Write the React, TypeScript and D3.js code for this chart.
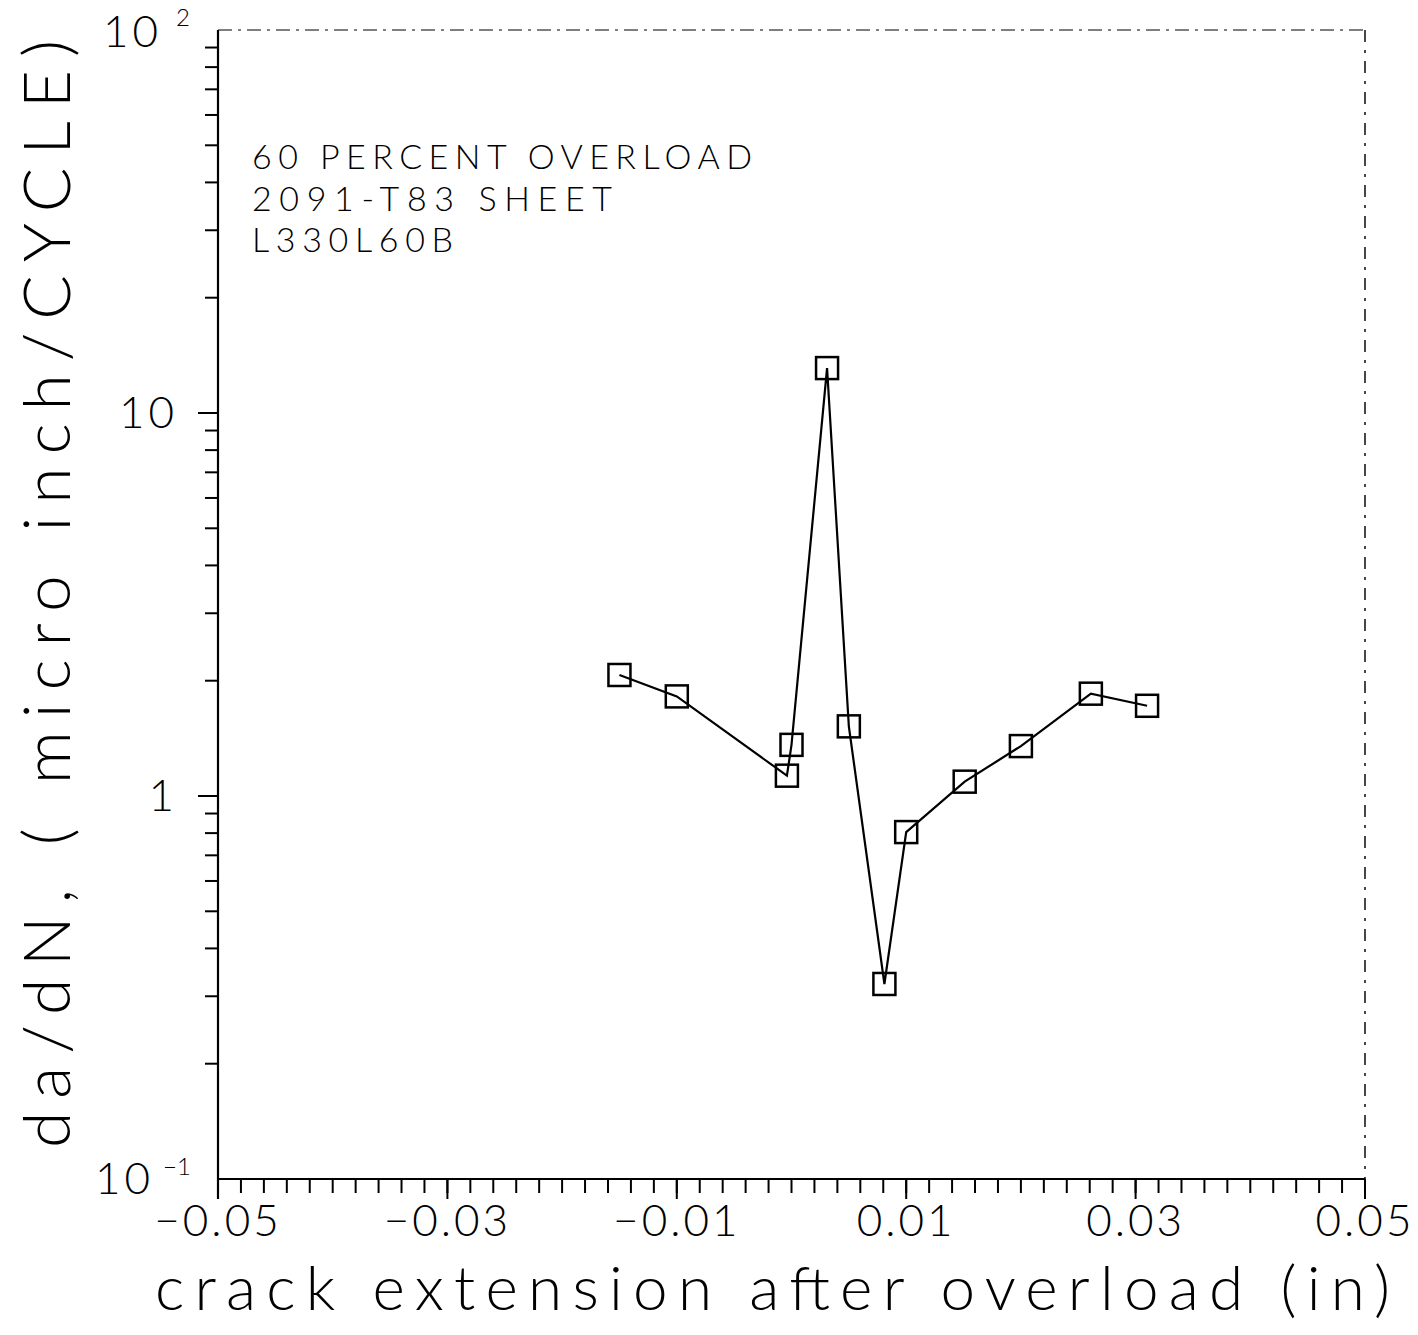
import React from "react";
import * as d3 from "d3";

const crackExt = [-0.015, -0.010, -0.0004, 0.0000, 0.0031, 0.0050, 0.0081, 0.0100, 0.0151, 0.0200, 0.0261, 0.0310];
const dadn = [2.07, 1.82, 1.13, 1.36, 13.1, 1.52, 0.323, 0.805, 1.09, 1.35, 1.85, 1.72];
const xTickLabels = [-0.05, -0.03, -0.01, 0.01, 0.03, 0.05];
const annotation = ["60 PERCENT OVERLOAD", "2091-T83 SHEET", "L330L60B"];
const annotationWidths = [500, 360, 201];
const yLabel = "da/dN, ( micro inch/CYCLE)";
const xLabel = "crack extension after overload (in)";

const W = 1418, H = 1335;
const L = 218, R = 1365, T = 30, B = 1179;
const FONT = "Lato, 'Open Sans', 'DejaVu Sans', sans-serif";

export default function App() {
  const x = d3.scaleLinear().domain([-0.05, 0.05]).range([L, R]);
  const y = d3.scaleLog().domain([0.1, 100]).range([B, T]);

  const minorX = d3.range(0, 51).map((i) => -0.05 + i * 0.002);
  const minorY: number[] = [];
  [0.1, 1, 10].forEach((d) => {
    for (let k = 2; k <= 9; k++) minorY.push(d * k);
  });
  const line = d3.line<number>().x((_, i) => x(crackExt[i])).y((v) => y(v));
  const S = 22;

  return (
    <svg width={W} height={H} style={{ display: "block", position: "absolute", left: 0, top: 0, background: "#fff" }}>
      <rect x={0} y={0} width={W} height={H} fill="#fff" />
      {/* frame */}
      <line x1={L} y1={T} x2={R} y2={T} stroke="#555" strokeWidth={1.5} strokeDasharray="14 6 3 6" />
      <line x1={R} y1={T} x2={R} y2={B + 20} stroke="#333" strokeWidth={1.8} strokeDasharray="12 8 3 8" />
      <line x1={L} y1={T} x2={L} y2={B + 20} stroke="#000" strokeWidth={2.2} />
      <line x1={L} y1={B} x2={R} y2={B} stroke="#000" strokeWidth={2.2} />
      {/* x ticks */}
      {minorX.map((v, i) => (
        <line key={"mx" + i} x1={x(v)} x2={x(v)} y1={B} y2={B + 14} stroke="#000" strokeWidth={2} />
      ))}
      {xTickLabels.map((v, i) => (
        <line key={"Mx" + i} x1={x(v)} x2={x(v)} y1={B} y2={B + 20} stroke="#000" strokeWidth={2} />
      ))}
      {xTickLabels.map((v, i) => (
        <text key={"xl" + i} x={x(v)} y={B + 57} textAnchor="middle" fontFamily={FONT} fontWeight={300} fontSize={44} letterSpacing={3} fill="#000">
          {v < 0 ? "\u2212" + Math.abs(v).toFixed(2) : v.toFixed(2)}
        </text>
      ))}
      {/* y ticks */}
      {minorY.map((v, i) => (
        <line key={"my" + i} x1={L - 13} x2={L} y1={y(v)} y2={y(v)} stroke="#000" strokeWidth={2} />
      ))}
      {[1, 10].map((v) => (
        <line key={"My" + v} x1={L - 20} x2={L} y1={y(v)} y2={y(v)} stroke="#000" strokeWidth={2} />
      ))}
      {/* y tick labels */}
      <text x={162} y={y(100) + 17} textAnchor="end" fontFamily={FONT} fontWeight={300} fontSize={44} letterSpacing={4}>10</text>
      <text x={176} y={y(100) - 4} fontFamily={FONT} fontWeight={300} fontSize={24}>2</text>
      <text x={178} y={y(10) + 15} textAnchor="end" fontFamily={FONT} fontWeight={300} fontSize={44} letterSpacing={4}>10</text>
      <text x={174} y={y(1) + 15} textAnchor="end" fontFamily={FONT} fontWeight={300} fontSize={44}>1</text>
      <text x={154} y={y(0.1) + 15} textAnchor="end" fontFamily={FONT} fontWeight={300} fontSize={44} letterSpacing={4}>10</text>
      <text x={163} y={y(0.1) - 4} fontFamily={FONT} fontWeight={300} fontSize={24}>{"\u22121"}</text>
      {/* annotation */}
      {annotation.map((s, i) => (
        <text key={"a" + i} x={252} y={169 + i * 41.5} textLength={annotationWidths[i]} lengthAdjust="spacing" fontFamily={FONT} fontWeight={300} fontSize={34} fill="#000">{s}</text>
      ))}
      {/* data line */}
      <path d={line(dadn) || ""} fill="none" stroke="#000" strokeWidth={2.2} />
      {dadn.map((v, i) => (
        <rect key={"p" + i} x={x(crackExt[i]) - S / 2} y={y(v) - S / 2} width={S} height={S} fill="none" stroke="#000" strokeWidth={2.5} />
      ))}
      {/* axis titles */}
      <text x={155} y={1310} textLength={1235} lengthAdjust="spacing" fontFamily={FONT} fontWeight={300} fontSize={62} fill="#000">{xLabel}</text>
      <text transform="translate(70,1148) rotate(-90)" x={0} y={0} textLength={1108} lengthAdjust="spacing" fontFamily={FONT} fontWeight={300} fontSize={66} fill="#000">{yLabel}</text>
    </svg>
  );
}
